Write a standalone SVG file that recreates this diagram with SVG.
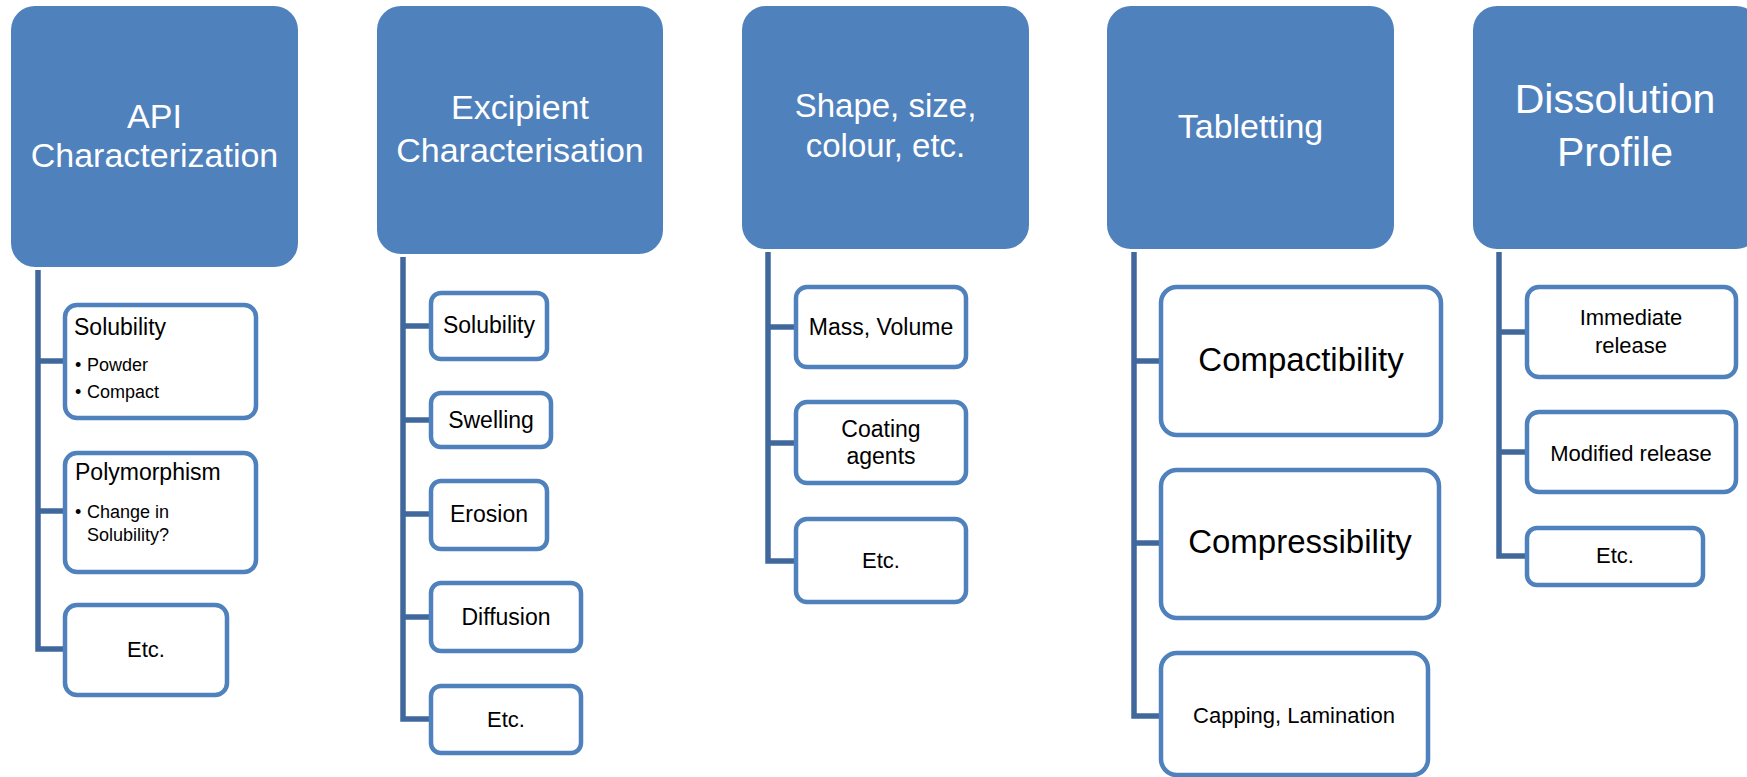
<svg xmlns="http://www.w3.org/2000/svg" width="1747" height="777" viewBox="0 0 1747 777">
<style>
.hdr{fill:#4F81BD}
.box{fill:#FFFFFF;stroke:#4F81BD;stroke-width:4.5}
.ht{font-family:"Liberation Sans",Arial,sans-serif;fill:#FFFFFF;text-anchor:middle}
.bt{font-family:"Liberation Sans",Arial,sans-serif;fill:#000000}
.c{text-anchor:middle}
.con{fill:none;stroke:#41689C;stroke-width:5.5;stroke-linejoin:miter}
</style>
<rect width="1747" height="777" fill="#FFFFFF"/>
<g id="connectors">
<path class="con" d="M38 270 V649 H66 M38 361 H66 M38 511 H66"/>
<path class="con" d="M403 257 V719 H432 M403 326 H432 M403 420 H432 M403 514 H432 M403 617 H432"/>
<path class="con" d="M768 252 V561 H797 M768 327 H797 M768 443 H797"/>
<path class="con" d="M1134 252 V716 H1162 M1134 361 H1162 M1134 543 H1162"/>
<path class="con" d="M1499 252 V556 H1528 M1499 332 H1528 M1499 452 H1528"/>
</g>
<g id="api">
<rect class="hdr" x="11" y="6" width="287" height="261" rx="24"/>
<text class="ht" x="154.5" y="128" font-size="34">API</text>
<text class="ht" x="154.5" y="167" font-size="34">Characterization</text>
</g>
<g id="api-solubility">
<rect class="box" x="65" y="305" width="191" height="113" rx="12"/>
<text class="bt" x="74" y="335" font-size="23">Solubility</text>
<text class="bt" x="75" y="371" font-size="18">•<tspan x="87">Powder</tspan></text>
<text class="bt" x="75" y="398" font-size="18">•<tspan x="87">Compact</tspan></text>
</g>
<g id="api-polymorphism">
<rect class="box" x="65" y="453" width="191" height="119" rx="12"/>
<text class="bt" x="75" y="480" font-size="23">Polymorphism</text>
<text class="bt" x="75" y="518" font-size="18">•<tspan x="87">Change in</tspan></text>
<text class="bt" x="87" y="541" font-size="18">Solubility?</text>
</g>
<g id="api-etc">
<rect class="box" x="65" y="605" width="162" height="90" rx="12"/>
<text class="bt c" x="146" y="657" font-size="22">Etc.</text>
</g>
<g id="excipient">
<rect class="hdr" x="377" y="6" width="286" height="248" rx="24"/>
<text class="ht" x="520" y="119" font-size="34">Excipient</text>
<text class="ht" x="520" y="162" font-size="34">Characterisation</text>
</g>
<g id="exc-solubility">
<rect class="box" x="431" y="293" width="116" height="66" rx="10"/>
<text class="bt c" x="489" y="333" font-size="23">Solubility</text>
</g>
<g id="exc-swelling">
<rect class="box" x="431" y="393" width="120" height="54" rx="10"/>
<text class="bt c" x="491" y="428" font-size="23">Swelling</text>
</g>
<g id="exc-erosion">
<rect class="box" x="431" y="481" width="116" height="68" rx="10"/>
<text class="bt c" x="489" y="522" font-size="23">Erosion</text>
</g>
<g id="exc-diffusion">
<rect class="box" x="431" y="583" width="150" height="68" rx="10"/>
<text class="bt c" x="506" y="625" font-size="23">Diffusion</text>
</g>
<g id="exc-etc">
<rect class="box" x="431" y="686" width="150" height="67" rx="10"/>
<text class="bt c" x="506" y="727" font-size="22">Etc.</text>
</g>
<g id="shape">
<rect class="hdr" x="742" y="6" width="287" height="243" rx="24"/>
<text class="ht" x="885.5" y="117" font-size="33">Shape, size,</text>
<text class="ht" x="885.5" y="157" font-size="33">colour, etc.</text>
</g>
<g id="shape-mass">
<rect class="box" x="796" y="287" width="170" height="80" rx="11"/>
<text class="bt c" x="881" y="335" font-size="23">Mass, Volume</text>
</g>
<g id="shape-coating">
<rect class="box" x="796" y="402" width="170" height="81" rx="11"/>
<text class="bt c" x="881" y="437" font-size="23">Coating</text>
<text class="bt c" x="881" y="464" font-size="23">agents</text>
</g>
<g id="shape-etc">
<rect class="box" x="796" y="519" width="170" height="83" rx="11"/>
<text class="bt c" x="881" y="568" font-size="22">Etc.</text>
</g>
<g id="tabletting">
<rect class="hdr" x="1107" y="6" width="287" height="243" rx="24"/>
<text class="ht" x="1250.5" y="138" font-size="34">Tabletting</text>
</g>
<g id="tab-compactibility">
<rect class="box" x="1161" y="287" width="280" height="148" rx="16"/>
<text class="bt c" x="1301" y="371" font-size="33">Compactibility</text>
</g>
<g id="tab-compressibility">
<rect class="box" x="1161" y="470" width="278" height="148" rx="16"/>
<text class="bt c" x="1300" y="553" font-size="33">Compressibility</text>
</g>
<g id="tab-capping">
<rect class="box" x="1161" y="653" width="267" height="122" rx="16"/>
<text class="bt c" x="1294" y="723" font-size="22">Capping, Lamination</text>
</g>
<g id="dissolution">
<rect class="hdr" x="1473" y="6" width="287" height="243" rx="24"/>
<text class="ht" x="1615" y="113" font-size="41">Dissolution</text>
<text class="ht" x="1615" y="166" font-size="41">Profile</text>
</g>
<g id="dis-immediate">
<rect class="box" x="1527" y="287" width="209" height="90" rx="12"/>
<text class="bt c" x="1631" y="325" font-size="22">Immediate</text>
<text class="bt c" x="1631" y="353" font-size="22">release</text>
</g>
<g id="dis-modified">
<rect class="box" x="1527" y="412" width="209" height="80" rx="12"/>
<text class="bt c" x="1631" y="461" font-size="22">Modified release</text>
</g>
<g id="dis-etc">
<rect class="box" x="1527" y="528" width="176" height="57" rx="10"/>
<text class="bt c" x="1615" y="563" font-size="22">Etc.</text>
</g>
</svg>
